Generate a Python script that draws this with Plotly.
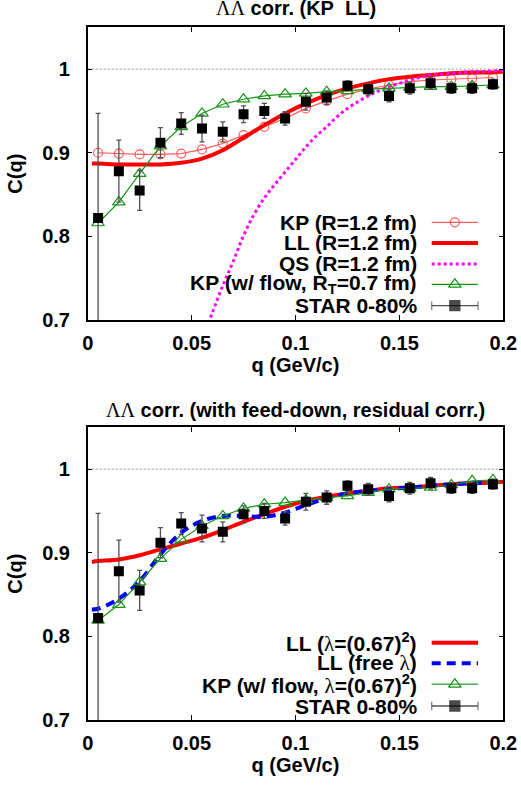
import plotly.graph_objects as go

# STAR 0-80% data (same in both panels)
q_star = [0.005, 0.015, 0.025, 0.035, 0.045, 0.055, 0.065, 0.075, 0.085, 0.095,
          0.105, 0.115, 0.125, 0.135, 0.145, 0.155, 0.165, 0.175, 0.185, 0.195]
c_star = [0.822, 0.878, 0.855, 0.912, 0.935, 0.929, 0.925, 0.946, 0.950, 0.941,
          0.961, 0.966, 0.980, 0.976, 0.968, 0.977, 0.983, 0.977, 0.977, 0.982]
err_star = [0.125, 0.037, 0.024, 0.018, 0.013, 0.016, 0.012, 0.010, 0.009, 0.008,
            0.010, 0.008, 0.006, 0.007, 0.007, 0.007, 0.007, 0.006, 0.006, 0.006]

# KP model points (same q as data)
c_kp = [0.900, 0.899, 0.898, 0.898, 0.899, 0.904, 0.911, 0.921, 0.931, 0.941,
        0.953, 0.962, 0.970, 0.976, 0.981, 0.985, 0.987, 0.988, 0.989, 0.990]
c_kp_flow = [0.816, 0.841, 0.875, 0.908, 0.931, 0.947, 0.958, 0.964, 0.968, 0.970,
             0.971, 0.973, 0.974, 0.976, 0.977, 0.978, 0.979, 0.979, 0.980, 0.981]
c_kp_flow_lam = [0.819, 0.838, 0.865, 0.893, 0.916, 0.932, 0.944, 0.953, 0.958, 0.960,
                 0.963, 0.966, 0.968, 0.972, 0.976, 0.977, 0.978, 0.981, 0.986, 0.987]

# LL curves
q_line = [0.002, 0.005, 0.015, 0.025, 0.035, 0.045, 0.055, 0.065, 0.075, 0.085, 0.095,
          0.105, 0.115, 0.125, 0.135, 0.145, 0.155, 0.165, 0.175, 0.185, 0.195, 0.2]
c_ll = [0.887, 0.887, 0.886, 0.886, 0.886, 0.888, 0.893, 0.903, 0.918, 0.933, 0.947,
        0.959, 0.969, 0.977, 0.983, 0.988, 0.991, 0.993, 0.995, 0.996, 0.996, 0.997]
c_ll_lam = [0.889, 0.890, 0.892, 0.897, 0.904, 0.911, 0.918, 0.927, 0.937, 0.946, 0.955,
            0.962, 0.967, 0.971, 0.974, 0.977, 0.978, 0.980, 0.982, 0.983, 0.984, 0.985]
c_ll_free = [0.832, 0.833, 0.845, 0.866, 0.898, 0.924, 0.938, 0.944, 0.944, 0.943, 0.948,
             0.957, 0.965, 0.971, 0.974, 0.976, 0.978, 0.980, 0.982, 0.983, 0.984, 0.985]

# QS curve
q_qs = [0.055, 0.06, 0.065, 0.07, 0.075, 0.08, 0.085, 0.09, 0.095, 0.1, 0.105, 0.11,
        0.115, 0.12, 0.125, 0.13, 0.135, 0.14, 0.145, 0.15, 0.155, 0.16, 0.165, 0.17,
        0.175, 0.18, 0.185, 0.19, 0.195, 0.2]
c_qs = [0.676, 0.709, 0.741, 0.770, 0.801, 0.826, 0.846, 0.862, 0.877, 0.892, 0.907, 0.920,
        0.931, 0.943, 0.953, 0.961, 0.968, 0.974, 0.979, 0.983, 0.987, 0.990, 0.993, 0.994,
        0.995, 0.996, 0.997, 0.997, 0.998, 0.998]

x_ticks = [0, 0.05, 0.1, 0.15, 0.2]
x_ticktext = ["0", "0.05", "0.1", "0.15", "0.2"]
y_ticks = [0.7, 0.8, 0.9, 1.0]
y_ticktext = ["0.7", "0.8", "0.9", "1"]

RED = "#ff0000"
KP_RED = "#ff5a5a"
GREEN = "#159415"
MAGENTA = "#ff00ff"
BLUE = "#0000ff"
GREY = "#505050"
FONT = "Liberation Sans"
LAM = '<span style="font-family:\'Liberation Serif\';font-weight:normal">%s</span>'

W, H = 521, 785
X0, X1 = 87.7, 503.3
PANELS = [(27.3, 320.0), (427.3, 720.0)]

fig = go.Figure()


def star_trace(ax):
    return go.Scatter(x=q_star, y=c_star, mode="markers", xaxis="x" + ax, yaxis="y" + ax,
                      marker=dict(symbol="square", size=10, color="black"),
                      error_y=dict(type="data", array=err_star, color=GREY,
                                   thickness=1.3, width=2.5))


def ref_line(ax):
    return go.Scatter(x=[0, 0.2], y=[1, 1], mode="lines", xaxis="x" + ax, yaxis="y" + ax,
                      line=dict(color="#999999", width=1, dash="2px,2px"))


# top panel: KP vs LL
fig.add_trace(ref_line(""))
fig.add_trace(go.Scatter(x=q_star, y=c_kp, mode="lines+markers", xaxis="x", yaxis="y",
                         line=dict(color=KP_RED, width=1.2),
                         marker=dict(symbol="circle-open", size=9, color=KP_RED,
                                     line=dict(width=1.2))))
fig.add_trace(go.Scatter(x=q_line, y=c_ll, mode="lines", line_shape="spline",
                         xaxis="x", yaxis="y", line=dict(color=RED, width=4)))
fig.add_trace(go.Scatter(x=q_qs, y=c_qs, mode="lines", line_shape="spline",
                         xaxis="x", yaxis="y", line=dict(color=MAGENTA, width=3, dash="dot")))
fig.add_trace(go.Scatter(x=q_star, y=c_kp_flow, mode="lines+markers", xaxis="x", yaxis="y",
                         line=dict(color=GREEN, width=1.2),
                         marker=dict(symbol="triangle-up-open", size=11, color=GREEN,
                                     line=dict(width=1.2))))
fig.add_trace(star_trace(""))

# bottom panel: with feed-down, residual corr.
fig.add_trace(ref_line("2"))
fig.add_trace(go.Scatter(x=q_line, y=c_ll_lam, mode="lines", line_shape="spline",
                         xaxis="x2", yaxis="y2", line=dict(color=RED, width=4)))
fig.add_trace(go.Scatter(x=q_line, y=c_ll_free, mode="lines", line_shape="spline",
                         xaxis="x2", yaxis="y2", line=dict(color=BLUE, width=4, dash="9px,6px")))
fig.add_trace(go.Scatter(x=q_star, y=c_kp_flow_lam, mode="lines+markers", xaxis="x2", yaxis="y2",
                         line=dict(color=GREEN, width=1.2),
                         marker=dict(symbol="triangle-up-open", size=11, color=GREEN,
                                     line=dict(width=1.2))))
fig.add_trace(star_trace("2"))

# gnuplot-style keys (text left, sample right), drawn in a pixel overlay
LX0, LX1, LTX = 431.7, 478.0, 418.5
LXC = (LX0 + LX1) / 2
keys = [
    (222.3, "KP (R=1.2 fm)", dict(color=KP_RED, width=1.2), ("circle-open", KP_RED, 9)),
    (243.0, "LL (R=1.2 fm)", dict(color=RED, width=4), None),
    (264.0, "QS (R=1.2 fm)", dict(color=MAGENTA, width=3, dash="dot"), None),
    (284.3, "KP (w/ flow, R<sub>T</sub>=0.7 fm)", dict(color=GREEN, width=1.2),
     ("triangle-up-open", GREEN, 11)),
    (305.7, "STAR 0-80%", None, None),
    (642.7, "LL (" + LAM % "λ" + "=(0.67)<sup>2</sup>)", dict(color=RED, width=4), None),
    (663.3, "LL (free " + LAM % "λ" + ")", dict(color=BLUE, width=4, dash="9px,6px"), None),
    (684.3, "KP (w/ flow, " + LAM % "λ" + "=(0.67)<sup>2</sup>)", dict(color="#55aa55", width=1.5),
     ("triangle-up-open", GREEN, 11)),
    (706.0, "STAR 0-80%", None, None),
]
for row, label, line, mk in keys:
    if line is None:
        fig.add_trace(go.Scatter(
            x=[LX0, LXC, LX1], y=[row] * 3, mode="lines+markers", xaxis="x3", yaxis="y3",
            line=dict(color=GREY, width=1.3),
            marker=dict(symbol=["line-ns-open", "square", "line-ns-open"], size=[6, 10, 6],
                        color=[GREY, "black", GREY],
                        line=dict(color=[GREY, "black", GREY], width=1.3))))
    else:
        fig.add_trace(go.Scatter(x=[LX0, LX1], y=[row, row], mode="lines",
                                 xaxis="x3", yaxis="y3", line=line))
        if mk is not None:
            fig.add_trace(go.Scatter(x=[LXC], y=[row], mode="markers", xaxis="x3", yaxis="y3",
                                     marker=dict(symbol=mk[0], color=mk[1], size=mk[2],
                                                 line=dict(width=1.2))))
    fig.add_annotation(x=LTX / W, y=1 - row / H, xref="paper", yref="paper",
                       xanchor="right", yanchor="middle", text=label, showarrow=False,
                       font=dict(family=FONT, size=21, color="black", weight="bold"))

titles = ["ΛΛ corr. (KP\u00a0\u00a0LL)", "ΛΛ corr. (with feed-down, residual corr.)"]
title_rows = [8.0, 410.0]
for t, row in zip(titles, title_rows):
    txt = LAM % t[:2] + t[2:]
    fig.add_annotation(x=(X0 + X1) / 2 / W, y=1 - row / H, xref="paper", yref="paper",
                       xanchor="center", yanchor="middle", text=txt, showarrow=False,
                       font=dict(family=FONT, size=20, color="black", weight="bold"))

axis_common = dict(showline=True, linecolor="black", linewidth=1.5, mirror="ticks",
                   ticks="inside", ticklen=5, tickwidth=1, tickcolor="black",
                   showgrid=False, zeroline=False, automargin=False,
                   tickfont=dict(family=FONT, size=20, color="black", weight="bold"))
layout_axes = {}
for i, (top, bot) in enumerate(PANELS):
    sfx = "" if i == 0 else "2"
    layout_axes["xaxis" + sfx] = dict(
        axis_common, domain=[X0 / W, X1 / W], range=[0, 0.2], anchor="y" + sfx,
        tickvals=x_ticks, ticktext=x_ticktext, ticklabelstandoff=4,
        title=dict(text="q (GeV/c)", standoff=4,
                   font=dict(family=FONT, size=20, color="black", weight="bold")))
    layout_axes["yaxis" + sfx] = dict(
        axis_common, domain=[1 - bot / H, 1 - top / H], range=[0.7, 1.05], anchor="x" + sfx,
        tickvals=y_ticks, ticktext=y_ticktext, ticklabelstandoff=12,
        title=dict(text="C(q)", standoff=14,
                   font=dict(family=FONT, size=20, color="black", weight="bold")))
layout_axes["xaxis3"] = dict(domain=[0, 1], range=[0, W], visible=False, anchor="y3",
                             automargin=False)
layout_axes["yaxis3"] = dict(domain=[0, 1], range=[H, 0], visible=False, anchor="x3",
                             automargin=False)

fig.update_layout(width=W, height=H, margin=dict(l=0, r=0, t=0, b=0, autoexpand=False),
                  paper_bgcolor="white", plot_bgcolor="rgba(0,0,0,0)", showlegend=False,
                  font=dict(family=FONT, size=20, color="black", weight="bold"),
                  **layout_axes)
fig.write_html("out.html", config={"displayModeBar": False},
               post_script="document.body.style.margin = '0px';")
